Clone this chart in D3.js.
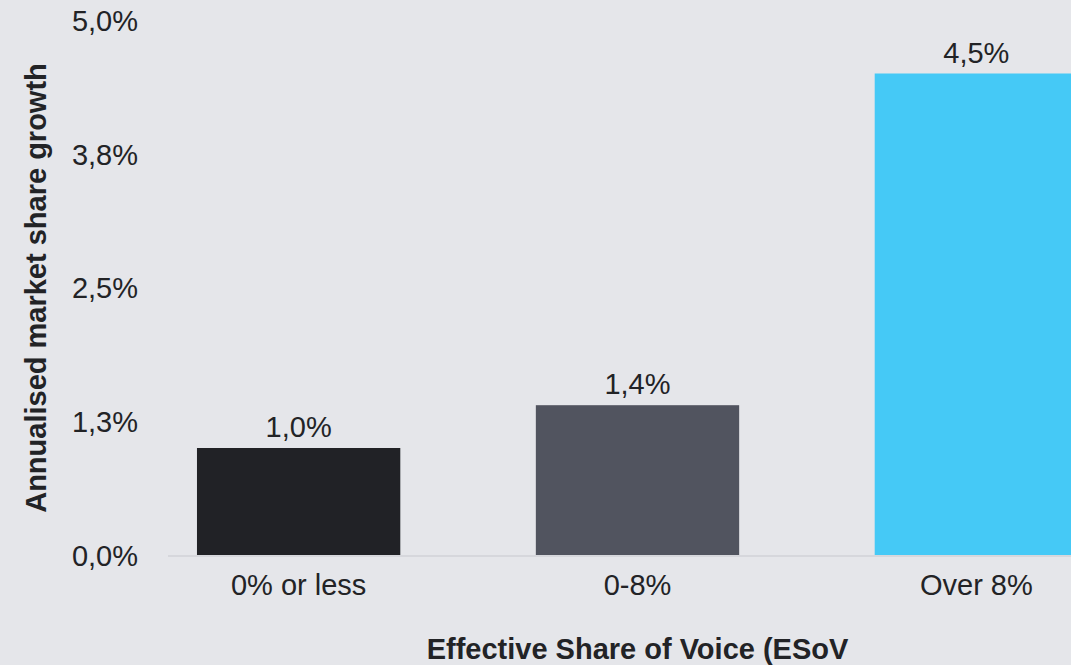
<!DOCTYPE html>
<html>
<head>
<meta charset="utf-8">
<script src="https://cdn.jsdelivr.net/npm/d3@7"></script>
<style>
  html, body { margin: 0; padding: 0; background: #e5e6ea; }
  svg { display: block; font-family: "Liberation Sans", Arial, sans-serif; }
</style>
</head>
<body>
<svg id="chart" width="1071" height="665"></svg>
<script>
// Effective Share of Voice buckets and their annualised market share growth (%)
const categories = ["0% or less", "0-8%", "Over 8%"];
const growth = [1.0, 1.4, 4.5];
const barColors = ["#212226", "#51545f", "#45c9f6"];
const yTicks = [0, 1.25, 2.5, 3.75, 5];
const yTitle = "Annualised market share growth";
const xTitle = "Effective Share of Voice (ESoV";

const locale = d3.formatLocale({ decimal: ",", thousands: ".", grouping: [3], currency: ["", "€"] });
const fmt = locale.format(".1f");
const pct = v => fmt(v) + "%";

const svg = d3.select("#chart");
const W = 1071, H = 665;
svg.append("rect").attr("width", W).attr("height", H).attr("fill", "#e5e6ea");

const x = d3.scaleBand()
  .domain(categories)
  .range([168, 1107])
  .paddingInner(0.4)
  .paddingOuter(0.0855);

const y = d3.scaleLinear().domain([0, 5]).range([555, 20]);

const textColor = "#222326";
const fs = 29;

// baseline
svg.append("line")
  .attr("x1", x.range()[0]).attr("x2", x.range()[1])
  .attr("y1", y(0) + 1).attr("y2", y(0) + 1)
  .attr("stroke", "#d6d7dc").attr("stroke-width", 2);

// y axis labels
const yAxis = d3.axisLeft(y).tickValues(yTicks).tickFormat(pct).tickSize(0).tickPadding(0);
const yg = svg.append("g").attr("transform", "translate(138,0)").call(yAxis);
yg.select(".domain").remove();
yg.selectAll("text").attr("fill", textColor).attr("font-size", fs)
  .attr("font-family", "'Liberation Sans', Arial, sans-serif").attr("dy", "0.36em");

// x axis labels
const xAxis = d3.axisBottom(x).tickSize(0).tickPadding(0);
const xg = svg.append("g").attr("transform", "translate(0,595)").call(xAxis);
xg.select(".domain").remove();
xg.selectAll("text").attr("fill", textColor).attr("font-size", fs)
  .attr("font-family", "'Liberation Sans', Arial, sans-serif").attr("dy", 0);

// bars
svg.append("g").selectAll("rect")
  .data(categories)
  .join("rect")
  .attr("x", d => x(d))
  .attr("width", x.bandwidth())
  .attr("y", (d, i) => y(growth[i]))
  .attr("height", (d, i) => y(0) - y(growth[i]))
  .attr("fill", (d, i) => barColors[i]);

// value labels
svg.append("g").selectAll("text")
  .data(categories)
  .join("text")
  .attr("x", d => x(d) + x.bandwidth() / 2)
  .attr("y", (d, i) => y(growth[i]) - 11)
  .attr("text-anchor", "middle")
  .attr("font-size", fs)
  .attr("fill", textColor)
  .text((d, i) => pct(growth[i]));

// axis titles
svg.append("text")
  .attr("transform", "translate(46,288) rotate(-90)")
  .attr("text-anchor", "middle")
  .attr("font-size", fs)
  .attr("font-weight", "bold")
  .attr("fill", textColor)
  .text(yTitle);

svg.append("text")
  .attr("x", (x.range()[0] + x.range()[1]) / 2)
  .attr("y", 659)
  .attr("text-anchor", "middle")
  .attr("font-size", fs)
  .attr("font-weight", "bold")
  .attr("fill", textColor)
  .text(xTitle);
</script>
</body>
</html>
